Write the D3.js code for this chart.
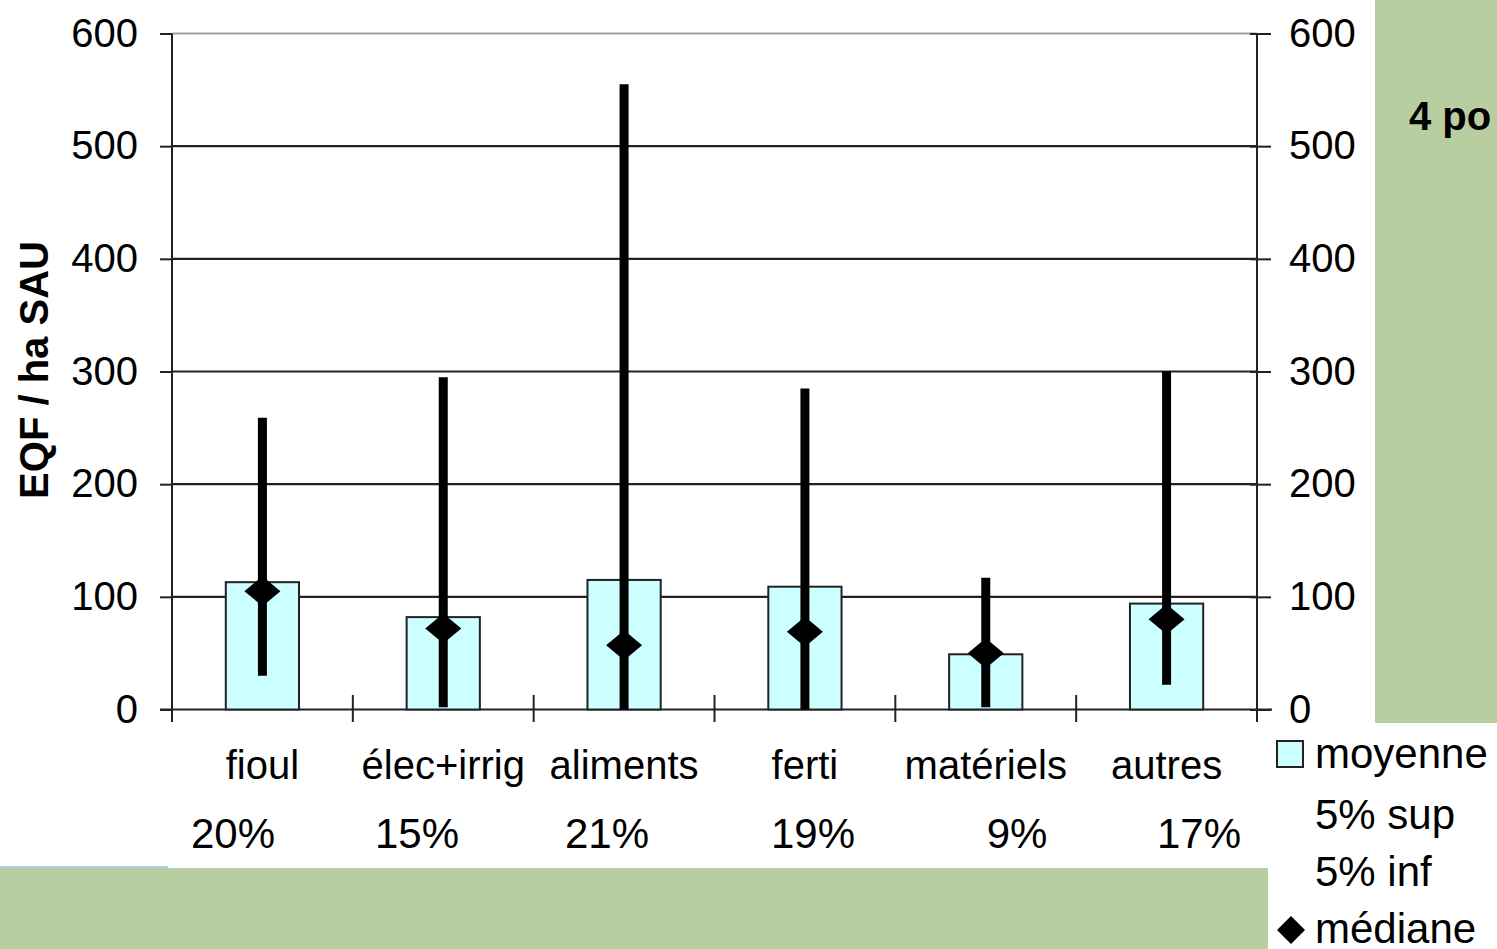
<!DOCTYPE html>
<html>
<head>
<meta charset="utf-8">
<script src="https://cdn.jsdelivr.net/npm/d3@7"></script>
<style>
  html, body { margin: 0; padding: 0; background: #fff; }
  svg { display: block; font-family: "Liberation Sans", Arial, sans-serif; }
</style>
</head>
<body>
<div id="chart"></div>
<script>
// data
var categories = ["fioul", "élec+irrig", "aliments", "ferti", "matériels", "autres"];
var shares = ["20%", "15%", "21%", "19%", "9%", "17%"];
var moyenne = [113, 82, 115, 109, 49, 94];
var sup5 = [259, 295, 555, 285, 117, 300];
var inf5 = [30, 2, 0, 0, 2, 22];
var mediane = [105, 72, 57, 69, 50, 80];
var yTicks = [0, 100, 200, 300, 400, 500, 600];
var legendLabels = ["moyenne", "5% sup", "5% inf", "médiane"];

// layout (plotTop not "top": window.top is read only)
var W = 1497, H = 949;
var plotLeft = 172, plotRight = 1257, plotTop = 33.5, plotBottom = 709.5;
var shareX = [233, 417, 607, 813, 1017, 1199];

var svg = d3.select("#chart").append("svg")
  .attr("width", W)
  .attr("height", H);

var x = d3.scaleBand()
  .domain(categories)
  .range([plotLeft, plotRight])
  .padding(0);

var y = d3.scaleLinear()
  .domain([0, 600])
  .range([plotBottom, plotTop]);

var barW = x.bandwidth() * 0.405;

var rows = categories.map(function(c, i) {
  return { cat: c, mean: moyenne[i], hi: sup5[i], lo: inf5[i], med: mediane[i] };
});

// green panels behind
svg.append("rect").attr("x", 1375).attr("y", 0).attr("width", W - 1375).attr("height", 723).attr("fill", "#b8cda0");
svg.append("rect").attr("x", 0).attr("y", 868).attr("width", 1268).attr("height", H - 868).attr("fill", "#b8cda0");
svg.append("line").attr("x1", 0).attr("x2", 168).attr("y1", 867).attr("y2", 867)
  .attr("stroke", "#a9d0f2").attr("stroke-width", 2);

svg.append("text")
  .attr("x", 1409).attr("y", 130)
  .attr("font-size", 40).attr("font-weight", "bold")
  .text("4 po");

// grid lines
svg.append("g")
  .selectAll("line")
  .data(yTicks.filter(function(d) { return d > 0; }))
  .enter().append("line")
  .attr("x1", plotLeft).attr("x2", plotRight)
  .attr("y1", function(d) { return y(d); })
  .attr("y2", function(d) { return y(d); })
  .attr("stroke", function(d) { return d == 600 ? "#a0a0a0" : "#222"; })
  .attr("stroke-width", 2.2);

// left axis
var leftAxis = d3.axisLeft(y).tickValues(yTicks).tickSize(12).tickPadding(22);
var gl = svg.append("g").attr("transform", "translate(" + plotLeft + ",0)").call(leftAxis);

// right axis (ticks cross the line)
var rightAxis = d3.axisRight(y).tickValues(yTicks).tickSize(14).tickPadding(18);
var gr = svg.append("g").attr("transform", "translate(" + plotRight + ",0)").call(rightAxis);
gr.selectAll(".tick line").attr("x1", -7).attr("x2", 14);

[gl, gr].forEach(function(g) {
  g.select(".domain").attr("stroke", "#222").attr("stroke-width", 2)
    .attr("d", "M0," + plotTop + "V" + plotBottom);
  g.selectAll(".tick line").attr("stroke", "#222").attr("stroke-width", 2);
  g.selectAll(".tick text").attr("font-size", 40).attr("fill", "#000")
    .attr("font-family", "Liberation Sans, Arial, sans-serif");
});

// x axis line and category ticks
svg.append("line")
  .attr("x1", 160).attr("x2", 1272)
  .attr("y1", plotBottom).attr("y2", plotBottom)
  .attr("stroke", "#222").attr("stroke-width", 2);

var boundaries = categories.map(function(c) { return x(c); }).concat([plotRight]);
svg.append("g").selectAll("line")
  .data(boundaries)
  .enter().append("line")
  .attr("x1", function(d) { return d; })
  .attr("x2", function(d) { return d; })
  .attr("y1", function(d, i) { return (i == 0 || i == boundaries.length - 1) ? plotBottom : 695; })
  .attr("y2", 722)
  .attr("stroke", "#222").attr("stroke-width", 2);

// category labels
svg.append("g").selectAll("text")
  .data(categories)
  .enter().append("text")
  .attr("x", function(d) { return x(d) + x.bandwidth() / 2; })
  .attr("y", 779)
  .attr("text-anchor", "middle")
  .attr("font-size", 40)
  .text(function(d) { return d; });

svg.append("g").selectAll("text")
  .data(shares)
  .enter().append("text")
  .attr("x", function(d, i) { return shareX[i]; })
  .attr("y", 848)
  .attr("text-anchor", "middle")
  .attr("font-size", 42)
  .text(function(d) { return d; });

// mean bars
svg.append("g").selectAll("rect")
  .data(rows)
  .enter().append("rect")
  .attr("x", function(d) { return x(d.cat) + (x.bandwidth() - barW) / 2; })
  .attr("y", function(d) { return y(d.mean); })
  .attr("width", barW)
  .attr("height", function(d) { return plotBottom - y(d.mean); })
  .attr("fill", "#ccffff")
  .attr("stroke", "#222")
  .attr("stroke-width", 2);

// 5% inf - 5% sup range
svg.append("g").selectAll("line")
  .data(rows)
  .enter().append("line")
  .attr("x1", function(d) { return x(d.cat) + x.bandwidth() / 2; })
  .attr("x2", function(d) { return x(d.cat) + x.bandwidth() / 2; })
  .attr("y1", function(d) { return y(d.hi); })
  .attr("y2", function(d) { return y(d.lo); })
  .attr("stroke", "#000")
  .attr("stroke-width", 9);

// median diamonds
function diamond(cx, cy, hw, hh) {
  return "M" + cx + "," + (cy - hh) + "L" + (cx + hw) + "," + cy +
    "L" + cx + "," + (cy + hh) + "L" + (cx - hw) + "," + cy + "Z";
}
svg.append("g").selectAll("path")
  .data(rows)
  .enter().append("path")
  .attr("d", function(d) { return diamond(x(d.cat) + x.bandwidth() / 2, y(d.med), 18, 15); })
  .attr("fill", "#000");

// y axis title
svg.append("text")
  .attr("transform", "translate(48,370) rotate(-90)")
  .attr("text-anchor", "middle")
  .attr("font-size", 40)
  .attr("font-weight", "bold")
  .text("EQF / ha SAU");

// legend
var legY = [768, 829, 886, 943];
var leg = svg.append("g");
leg.selectAll("text")
  .data(legendLabels)
  .enter().append("text")
  .attr("x", 1315)
  .attr("y", function(d, i) { return legY[i]; })
  .attr("font-size", 42)
  .text(function(d) { return d; });
leg.append("rect")
  .attr("x", 1277).attr("y", 741).attr("width", 26).attr("height", 26)
  .attr("fill", "#ccffff").attr("stroke", "#222").attr("stroke-width", 2);
leg.append("path")
  .attr("d", diamond(1291, 930, 14, 14))
  .attr("fill", "#000");
</script>
</body>
</html>
